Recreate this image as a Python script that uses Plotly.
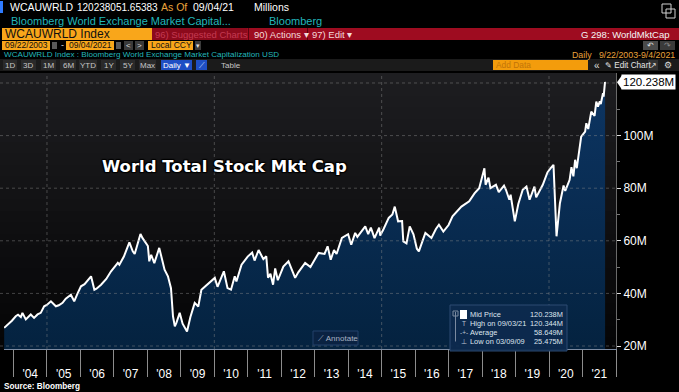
import plotly.graph_objects as go

# ---------------- data ----------------
dates = [
    "2003-09-22", "2003-10-20", "2003-11-15", "2003-12-15", "2004-01-26", "2004-02-20",
    "2004-03-22", "2004-04-08", "2004-05-15", "2004-06-20", "2004-07-08", "2004-08-13",
    "2004-09-20", "2004-10-25", "2004-12-01", "2004-12-30", "2005-02-13", "2005-04-08",
    "2005-05-10", "2005-06-20", "2005-07-25", "2005-09-19", "2005-10-25", "2005-12-01",
    "2006-01-07", "2006-02-15", "2006-04-08", "2006-04-27", "2006-06-02", "2006-06-25",
    "2006-08-14", "2006-10-10", "2006-12-01", "2007-02-13", "2007-03-02", "2007-04-20",
    "2007-06-19", "2007-07-26", "2007-08-16", "2007-10-18", "2007-11-10", "2007-12-01",
    "2008-01-07", "2008-01-22", "2008-02-12", "2008-03-17", "2008-05-10", "2008-07-07",
    "2008-08-13", "2008-09-15", "2008-10-07", "2008-10-27", "2008-11-13", "2008-12-19",
    "2009-01-20", "2009-03-09", "2009-04-15", "2009-06-01", "2009-07-10", "2009-08-13",
    "2009-10-20", "2010-01-06", "2010-02-05", "2010-04-15", "2010-05-25", "2010-07-02",
    "2010-08-12", "2010-08-30", "2010-10-25", "2010-12-31", "2011-02-18", "2011-03-16",
    "2011-04-29", "2011-06-20", "2011-07-22", "2011-08-10", "2011-09-05", "2011-10-04",
    "2011-10-27", "2011-11-25", "2012-01-24", "2012-03-20", "2012-06-01", "2012-07-05",
    "2012-09-18", "2012-11-15", "2013-01-20", "2013-02-12", "2013-04-18", "2013-05-21",
    "2013-06-24", "2013-07-30", "2013-08-27", "2013-10-24", "2013-12-31", "2014-02-03",
    "2014-03-18", "2014-04-11", "2014-07-06", "2014-08-07", "2014-09-05", "2014-10-15",
    "2014-12-05", "2014-12-16", "2015-01-22", "2015-03-19", "2015-04-28", "2015-05-24",
    "2015-06-29", "2015-08-12", "2015-08-25", "2015-09-29", "2015-11-03", "2015-12-14",
    "2016-01-20", "2016-02-11", "2016-04-22", "2016-06-27", "2016-08-15", "2016-09-17",
    "2016-11-04", "2016-12-31", "2017-02-12", "2017-03-19", "2017-05-20", "2017-08-13",
    "2017-10-10", "2017-11-30", "2018-01-26", "2018-02-08", "2018-03-12", "2018-04-02",
    "2018-06-01", "2018-07-02", "2018-08-28", "2018-09-18", "2018-10-25", "2018-11-08",
    "2018-12-24", "2019-01-31", "2019-03-20", "2019-04-30", "2019-06-03", "2019-07-26",
    "2019-08-14", "2019-10-25", "2019-12-15", "2020-01-17", "2020-02-19", "2020-03-23",
    "2020-04-29", "2020-06-08", "2020-06-26", "2020-08-13", "2020-09-02", "2020-09-23",
    "2020-10-12", "2020-10-30", "2020-12-17", "2021-01-29", "2021-02-11", "2021-03-04",
    "2021-04-06", "2021-05-12", "2021-05-31", "2021-06-18", "2021-07-08", "2021-07-19",
    "2021-08-12", "2021-08-19", "2021-09-03", "2021-09-04",
]
values = [
    26.9, 27.8, 28.5, 29.6, 31.3, 31.9,
    31.0, 32.6, 30.1, 31.5, 32.0, 30.7,
    32.0, 32.6, 35.1, 35.6, 37.0, 35.1,
    35.5, 36.4, 38.0, 39.5, 37.0, 40.0,
    42.7, 43.5, 45.9, 46.5, 41.4, 41.8,
    43.3, 45.5, 48.4, 51.6, 50.9, 54.0,
    59.4, 56.0, 55.0, 62.6, 61.0, 59.8,
    58.0, 52.2, 54.7, 51.5, 57.3, 49.0,
    46.5, 42.0, 31.3, 27.5, 28.8, 32.6,
    28.5, 25.5, 31.0, 36.4, 35.0, 41.4,
    43.5, 45.9, 42.5, 48.4, 42.0, 41.4,
    46.5, 44.5, 50.9, 54.0, 55.5, 52.5,
    56.5, 53.0, 54.1, 46.0, 47.5, 43.3,
    49.5, 45.0, 50.2, 52.2, 45.9, 48.0,
    51.6, 50.0, 54.0, 55.4, 55.0, 57.9,
    52.8, 56.5, 55.0, 61.1, 62.5, 58.5,
    63.0, 61.5, 65.5, 62.5, 65.0, 61.0,
    65.0, 62.0, 64.5, 68.7, 70.0, 73.0,
    67.4, 67.5, 59.8, 59.0, 65.5, 62.5,
    57.0, 56.0, 63.0, 61.1, 64.5, 66.1,
    63.5, 66.0, 69.3, 70.5, 73.0, 75.0,
    78.0, 80.0, 87.6, 81.3, 84.0, 80.0,
    81.3, 78.5, 81.0, 79.4, 75.6, 77.5,
    67.4, 74.0, 79.4, 80.6, 75.6, 80.6,
    76.5, 81.3, 86.0, 87.5, 88.9, 61.7,
    74.3, 81.0, 79.0, 83.2, 88.0, 84.5,
    90.8, 87.6, 99.6, 101.5, 104.7, 102.5,
    109.1, 107.5, 112.9, 111.0, 113.0, 112.0,
    116.1, 114.8, 120.344, 120.238,
]

ytick_vals = [20, 40, 60, 80, 100]
ytick_text = ["20M", "40M", "60M", "80M", "100M"]
yminor_vals = [30, 50, 70, 90, 110]
grid_levels = [20, 40, 60, 80, 100, 120]
grid_years = ["2005-01-01", "2010-01-01", "2015-01-01", "2020-01-01"]

legend_rows = [
    ("Mid Price", "120.238M"),
    ("High on 09/03/21", "120.344M"),
    ("Average", "58.649M"),
    ("Low on 03/09/09", "25.475M"),
]
last_value = values[-1]

# ---------------- geometry helpers (pixels -> paper) ----------------
W, H = 679, 392
ML, MR, MT, MB = 4, 63, 73, 43
PW, PH = W - ML - MR, H - MT - MB


def px(x):
    return (x - ML) / PW


def py(y):
    return (H - MB - y) / PH


shapes = []
annotations = []


def rect(x0, y0, x1, y1, fill, line=None, layer="above", lw=1):
    shapes.append(dict(type="rect", xref="paper", yref="paper",
                       x0=px(x0), x1=px(x1), y0=py(y1), y1=py(y0),
                       fillcolor=fill, layer=layer,
                       line=dict(color=line or "rgba(0,0,0,0)", width=lw if line else 0)))


def text(x, y, s, color="white", size=10, anchor="left", family="Liberation Sans",
         bold=False, **kw):
    if bold:
        s = "<b>" + s + "</b>"
    annotations.append(dict(xref="paper", yref="paper", x=px(x), y=py(y), text=s,
                            showarrow=False, xanchor=anchor, yanchor="middle",
                            font=dict(color=color, size=size, family=family, **kw),
                            borderpad=0))


# ---------------- plot background gradient ----------------
nb = 24
top_c, bot_c = (30, 30, 33), (5, 5, 6)
for i in range(nb):
    t = i / (nb - 1)
    c = tuple(int(top_c[k] + (bot_c[k] - top_c[k]) * t) for k in range(3))
    y0 = MT + i * PH / nb
    y1 = MT + (i + 1) * PH / nb + 0.5
    rect(0, y0, ML + PW, y1, "rgb(%d,%d,%d)" % c, layer="below")

# grid lines (dotted, above the fill)
for lv in grid_levels:
    shapes.append(dict(type="line", xref="paper", yref="y", x0=px(0), x1=1, y0=lv, y1=lv,
                       layer="above", line=dict(color="rgba(140,140,140,0.45)", width=1, dash="dot")))
for gy in grid_years:
    shapes.append(dict(type="line", xref="x", yref="paper", x0=gy, x1=gy, y0=0, y1=1,
                       layer="above", line=dict(color="rgba(140,140,140,0.45)", width=1, dash="dot")))

# ---------------- header ----------------
# row 1
rect(0, 1, 3, 13, "#2f7bff")
text(9, 7.5, "WCAUWRLD", size=10.5)
text(76, 7.5, "120238051.65383", size=10)
text(160, 7.5, "As Of", color="#e9a23b", size=10.5)
text(192, 7.5, "09/04/21", size=10.5)
text(253, 7.5, "Millions", size=10.5)
rect(662, 4, 671, 13, "rgba(0,0,0,0)", line="#d0d0d0")
rect(666, 9, 675, 18, "rgba(0,0,0,0)", line="#d0d0d0")
# row 2
text(10, 21, "Bloomberg World Exchange Market Capital...", color="#22b7bb", size=11)
text(268, 21, "Bloomberg", color="#22b7bb", size=11)
# row 3
rect(2, 28, 152, 40, "#f9a61a")
text(4, 34, "WCAUWRLD Index", color="#101010", size=12)
rect(152, 28, 679, 40, "#9e0c20")
rect(152, 28, 247, 40, "#8c0a1c")
text(154, 34, "96) Suggested Charts", color="#c43a52", size=9.5)
rect(248, 28, 249, 40, "#5a0510")
text(253, 34, "90) Actions ▾", color="#f3dada", size=9.5)
rect(307, 28, 308, 40, "#5a0510")
text(311, 34, "97) Edit ▾", color="#f3dada", size=9.5)
text(671, 34, "G 298: WorldMktCap", color="#f5f5f5", size=9.5, anchor="right")
# row 4
rect(2, 41, 50, 50, "#f9a61a")
text(4, 45.5, "09/22/2003", color="#101010", size=8.5)
rect(52, 42, 57, 49, "#5a5a5a")
text(60, 45.5, "-", color="#dddddd", size=9)
rect(66, 41, 114, 50, "#f9a61a")
text(68, 45.5, "09/04/2021", color="#101010", size=8.5)
rect(116, 42, 121, 49, "#5a5a5a")
rect(124, 41, 133, 50, "#3a3a3a")
text(128.5, 45.5, "<", color="#dddddd", size=8, anchor="center")
rect(135, 41, 144, 50, "#3a3a3a")
text(139.5, 45.5, ">", color="#dddddd", size=8, anchor="center")
rect(148, 41, 193, 50, "#f9a61a")
text(150, 45.5, "Local CCY", color="#101010", size=8.5)
rect(195, 41, 201, 50, "#3a3a3a")
text(198, 45.5, "▾", color="#dddddd", size=7, anchor="center")
rect(643, 41, 658, 50, "#4a4a4a")
text(650.5, 45.5, "↶", color="#dddddd", size=8, anchor="center")
rect(660, 41, 675, 50, "#3a3a3a")
text(667.5, 45.5, "↷", color="#888888", size=8, anchor="center")
# row 5
text(3, 55, "WCAUWRLD Index : Bloomberg World Exchange Market Capitalization USD",
     color="#22b7bb", size=8.1)
text(676, 55, "Daily   9/22/2003-9/4/2021", color="#e9a23b", size=8.8, anchor="right")
# row 6 (toolbar)
rect(0, 59, 679, 71, "#1b1b1b")
btns = [("1D", 3, 17), ("3D", 21, 36), ("1M", 41, 56), ("6M", 60, 76), ("YTD", 79, 97),
        ("1Y", 101, 116), ("5Y", 120, 135), ("Max", 139, 156)]
for lab, a, b in btns:
    rect(a, 60, b, 70, "#2a2a2a")
    text((a + b) / 2, 65, lab, color="#c6c6c6", size=8, anchor="center")
rect(161, 60, 192, 70, "#1f4fc4")
text(176.5, 65, "Daily ▼", color="#ffffff", size=8, anchor="center")
rect(196, 60, 207, 70, "#1f4fc4")
text(201.5, 65, "⟋", color="#cfe0ff", size=8, anchor="center")
text(220, 65, "Table", color="#c6c6c6", size=8)
rect(493, 60, 588, 70, "#f39c0c")
text(495, 65, "Add Data", color="#c27408", size=8.4)
text(597, 65, "«", color="#dddddd", size=10, anchor="center")
text(604, 65, "✎ Edit Chart", color="#e6e6e6", size=8.2)
rect(648, 60, 658, 70, "#333333")
text(653, 65, "↗", color="#dddddd", size=7.5, anchor="center")
text(668, 65, "⚙", color="#dddddd", size=8.5, anchor="center")

# ---------------- in-chart decorations ----------------
annotations.append(dict(xref="paper", yref="paper", x=px(100), y=py(166),
                        text="<b>World Total Stock Mkt Cap</b>", showarrow=False,
                        xanchor="left", yanchor="middle",
                        font=dict(family="DejaVu Sans", size=16.5, color="white",
                                  shadow="1px 1px 1px #000, -1px -1px 1px #000, 1px -1px 1px #000, -1px 1px 1px #000")))

# Annotate button
rect(313, 331, 358, 345, "#0a2242", line="#22406a")
text(317, 338, "⟋ Annotate", color="#a9b4c2", size=8)

# legend box
rect(450, 305, 567, 351, "rgba(13,42,78,0.95)", line="#2c4a72")
row_y = [314.5, 323.5, 332.5, 341.5]
shapes.append(dict(type="line", xref="paper", yref="paper", x0=px(455.5), x1=px(455.5),
                   y0=py(341.5), y1=py(312), layer="above", line=dict(color="#7b8aa0", width=1)))
rect(453, 311, 458, 316, "rgba(0,0,0,0)", line="#7b8aa0")
rect(460, 310, 467, 319, "#ffffff")
markers = ["", "T", "-+-", "⊥"]
for (lab, val), yy, mk in zip(legend_rows, row_y, markers):
    if mk:
        text(463.5, yy, mk, color="#b8c2d0", size=6.5, anchor="center")
    text(469, yy, lab, color="#dfe5ee", size=7.4)
    text(564, yy, val, color="#dfe5ee", size=7.4, anchor="right")

# current value marker on the right axis
shapes.append(dict(type="path", xref="paper", yref="y",
                   path="M %f,%f L %f,%f L %f,%f Z" % (px(617), last_value, px(622), last_value + 2.7,
                                                       px(622), last_value - 2.7),
                   fillcolor="white", line=dict(width=0), layer="above"))
annotations.append(dict(xref="paper", yref="y", x=px(621), y=last_value,
                        text="%.3fM" % last_value, showarrow=False, xanchor="left",
                        yanchor="middle", bgcolor="white", borderpad=1,
                        font=dict(color="#000000", size=11.5, family="Liberation Sans")))

# source
text(3, 386.5, "Source: Bloomberg", color="white", size=8.2, bold=True)

# ---------------- figure ----------------
fig = go.Figure()
fig.add_trace(go.Scatter(
    x=dates, y=values, mode="lines",
    line=dict(color="white", width=2),
    fill="tozeroy",
    fillgradient=dict(type="vertical", start=18, stop=122,
                      colorscale=[[0, "#04223f"], [1, "#0d3563"]]),
    hoverinfo="skip", showlegend=False,
))

fig.update_layout(
    width=W, height=H,
    margin=dict(l=ML, r=MR, t=MT, b=MB),
    paper_bgcolor="black", plot_bgcolor="rgba(0,0,0,0)",
    showlegend=False,
    shapes=shapes, annotations=annotations,
    xaxis=dict(
        type="date", range=["2003-09-20", "2022-01-01"],
        tick0="2004-01-01", dtick="M12", ticklabelmode="period", tickformat="'%y",
        ticks="outside", ticklen=27, tickcolor="#8c8c8c", tickwidth=1,
        ticklabelstandoff=-13,
        tickfont=dict(color="white", size=12, family="Liberation Sans"),
        showgrid=False, zeroline=False,
        showline=True, linecolor="#7d8ca3", linewidth=1,
        fixedrange=True,
    ),
    yaxis=dict(
        side="right", range=[18.86, 123.8],
        tickvals=ytick_vals, ticktext=ytick_text,
        ticks="outside", ticklen=4, tickcolor="#e0e0e0", tickwidth=1,
        minor=dict(tickvals=yminor_vals, ticks="outside", ticklen=3, tickcolor="#777777"),
        tickfont=dict(color="white", size=12, family="Liberation Sans"),
        showgrid=False, zeroline=False,
        showline=True, linecolor="#6a6a6a", linewidth=1,
        fixedrange=True,
    ),
)

fig.write_html("out.html", config={"displayModeBar": False},
               post_script="document.body.style.margin='0';document.body.style.overflow='hidden';document.body.style.background='black';")
